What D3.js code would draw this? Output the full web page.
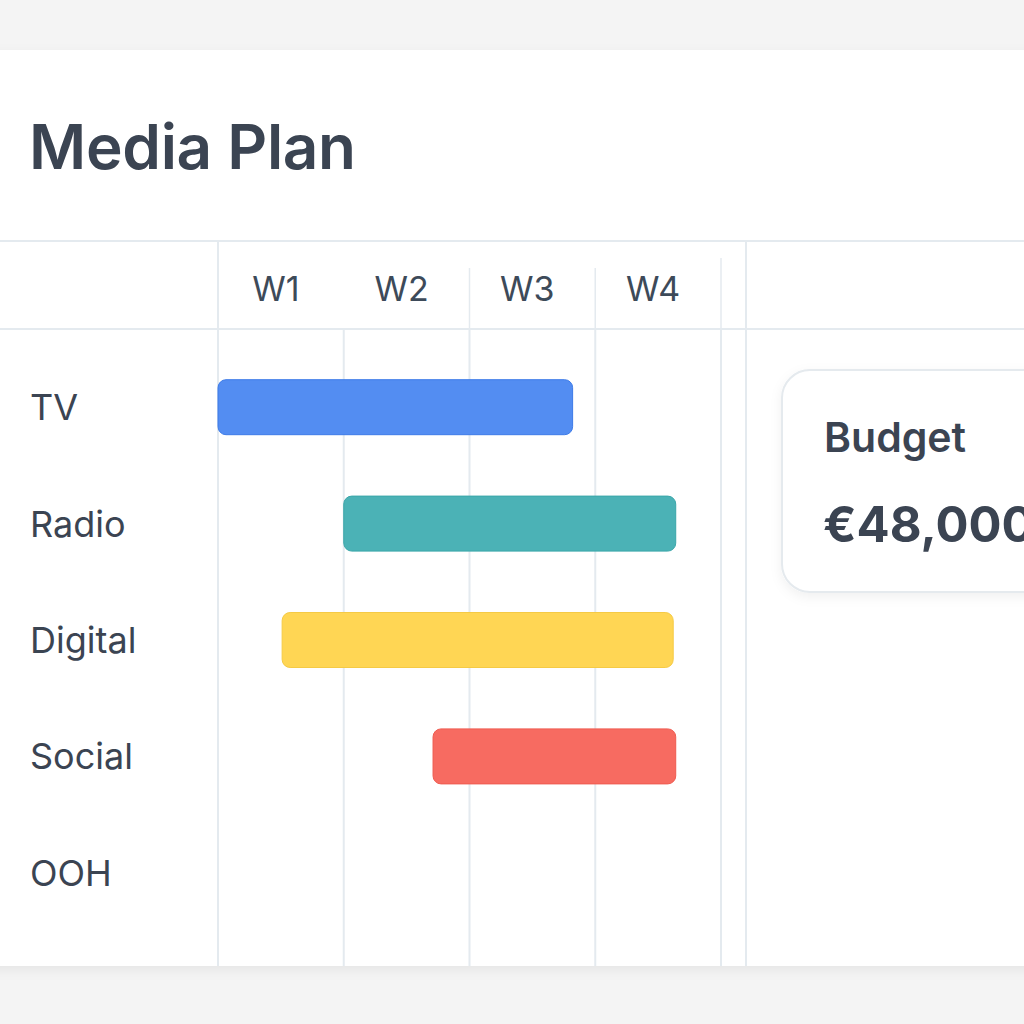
<!DOCTYPE html>
<html><head><meta charset="utf-8">
<script src="https://cdn.jsdelivr.net/npm/d3@7"></script>
<style>html,body{margin:0;padding:0;background:#f4f4f4;}svg{display:block;}</style>
</head><body>
<svg id="c" width="1024" height="1024"></svg>
<script>
const title = "Media Plan";
const weeks = ["W1","W2","W3","W4"];
const channels = ["TV","Radio","Digital","Social","OOH"];
const startWeek = [0, 1.0, 0.51, 1.71, null];
const endWeek = [2.82, 3.64, 3.62, 3.64, null];
const barColors = ["#538df2","#4bb2b6","#ffd654","#f76b61",null];
const barStrokes = ["#3d7be8","#3aa6a9","#f5ca45","#ef5b50",null];
const budgetLabel = "Budget";
const budgetValue = "€48,000";

const svg = d3.select("#c");
const font = "Inter, 'Open Sans', sans-serif";
const ink = "#3b4452";
const grid = "#e4eaef";

const defs = svg.append("defs");
const f = defs.append("filter").attr("id","sh").attr("x","-20%").attr("y","-20%").attr("width","140%").attr("height","150%");
f.append("feDropShadow").attr("dx",0).attr("dy",4).attr("stdDeviation",6).attr("flood-color","#000").attr("flood-opacity",0.06);

svg.append("rect").attr("width",1024).attr("height",1024).attr("fill","#f4f4f4");
// main card
svg.append("rect").attr("x",-20).attr("y",50).attr("width",1064).attr("height",916).attr("fill","#fff").attr("filter","url(#sh)");

svg.append("text").attr("x",29).attr("y",169).text(title)
  .attr("font-family",font).attr("font-size",62).attr("font-weight",600).attr("fill",ink).attr("letter-spacing","-0.3");

const x = d3.scaleLinear().domain([0,4]).range([218,721]);
const y = d3.scaleBand().domain(channels).range([349,931]).paddingInner(0);

// horizontal lines
[241,329].forEach(v=>svg.append("line").attr("x1",0).attr("x2",1024).attr("y1",v).attr("y2",v).attr("stroke",grid).attr("stroke-width",2));
// vertical grid
svg.append("line").attr("x1",x(0)).attr("x2",x(0)).attr("y1",241).attr("y2",966).attr("stroke",grid).attr("stroke-width",2);
svg.selectAll(".vg").data([1,2,3,4]).enter().append("line")
  .attr("x1",d=>x(d)).attr("x2",d=>x(d)).attr("y1",329).attr("y2",966).attr("stroke",grid).attr("stroke-width",2);
svg.selectAll(".vh").data([2,3,4]).enter().append("line")
  .attr("x1",d=>x(d)).attr("x2",d=>x(d)).attr("y1",d=>d===4?258:268).attr("y2",329).attr("stroke",grid).attr("stroke-width",1.5);
svg.append("line").attr("x1",746).attr("x2",746).attr("y1",241).attr("y2",966).attr("stroke",grid).attr("stroke-width",2);

// week labels
svg.selectAll(".wk").data(weeks).enter().append("text")
  .attr("x",(d,i)=>x(i+0.46)).attr("y",301).attr("text-anchor","middle").text(d=>d)
  .attr("font-family",font).attr("font-size",34).attr("font-weight",400).attr("fill","#3d4a59");

// row labels
svg.selectAll(".rl").data(channels).enter().append("text")
  .attr("x",30).attr("y",d=>y(d)+y.bandwidth()/2).attr("dy","0.36em").text(d=>d)
  .attr("font-family",font).attr("font-size",36).attr("font-weight",400).attr("fill",ink);

// bars
const bh = 55;
svg.selectAll(".bar").data(channels.map((c,i)=>({c,i})).filter(d=>startWeek[d.i]!=null)).enter().append("rect")
  .attr("x",d=>x(startWeek[d.i])).attr("width",d=>x(endWeek[d.i])-x(startWeek[d.i]))
  .attr("y",d=>y(d.c)+y.bandwidth()/2-bh/2).attr("height",bh).attr("rx",8)
  .attr("fill",d=>barColors[d.i]).attr("stroke",d=>barStrokes[d.i]).attr("stroke-width",1);

// budget card
svg.append("rect").attr("x",782).attr("y",370).attr("width",300).attr("height",222).attr("rx",28)
  .attr("fill","#fff").attr("stroke","#e5eaee").attr("stroke-width",2).attr("filter","url(#sh)");
svg.append("text").attr("x",824).attr("y",452).text(budgetLabel)
  .attr("font-family",font).attr("font-size",41).attr("font-weight",600).attr("fill",ink);
svg.append("text").attr("x",823).attr("y",542).text(budgetValue)
  .attr("font-family",font).attr("font-size",49).attr("font-weight",700).attr("fill",ink);
</script>
</body></html>
